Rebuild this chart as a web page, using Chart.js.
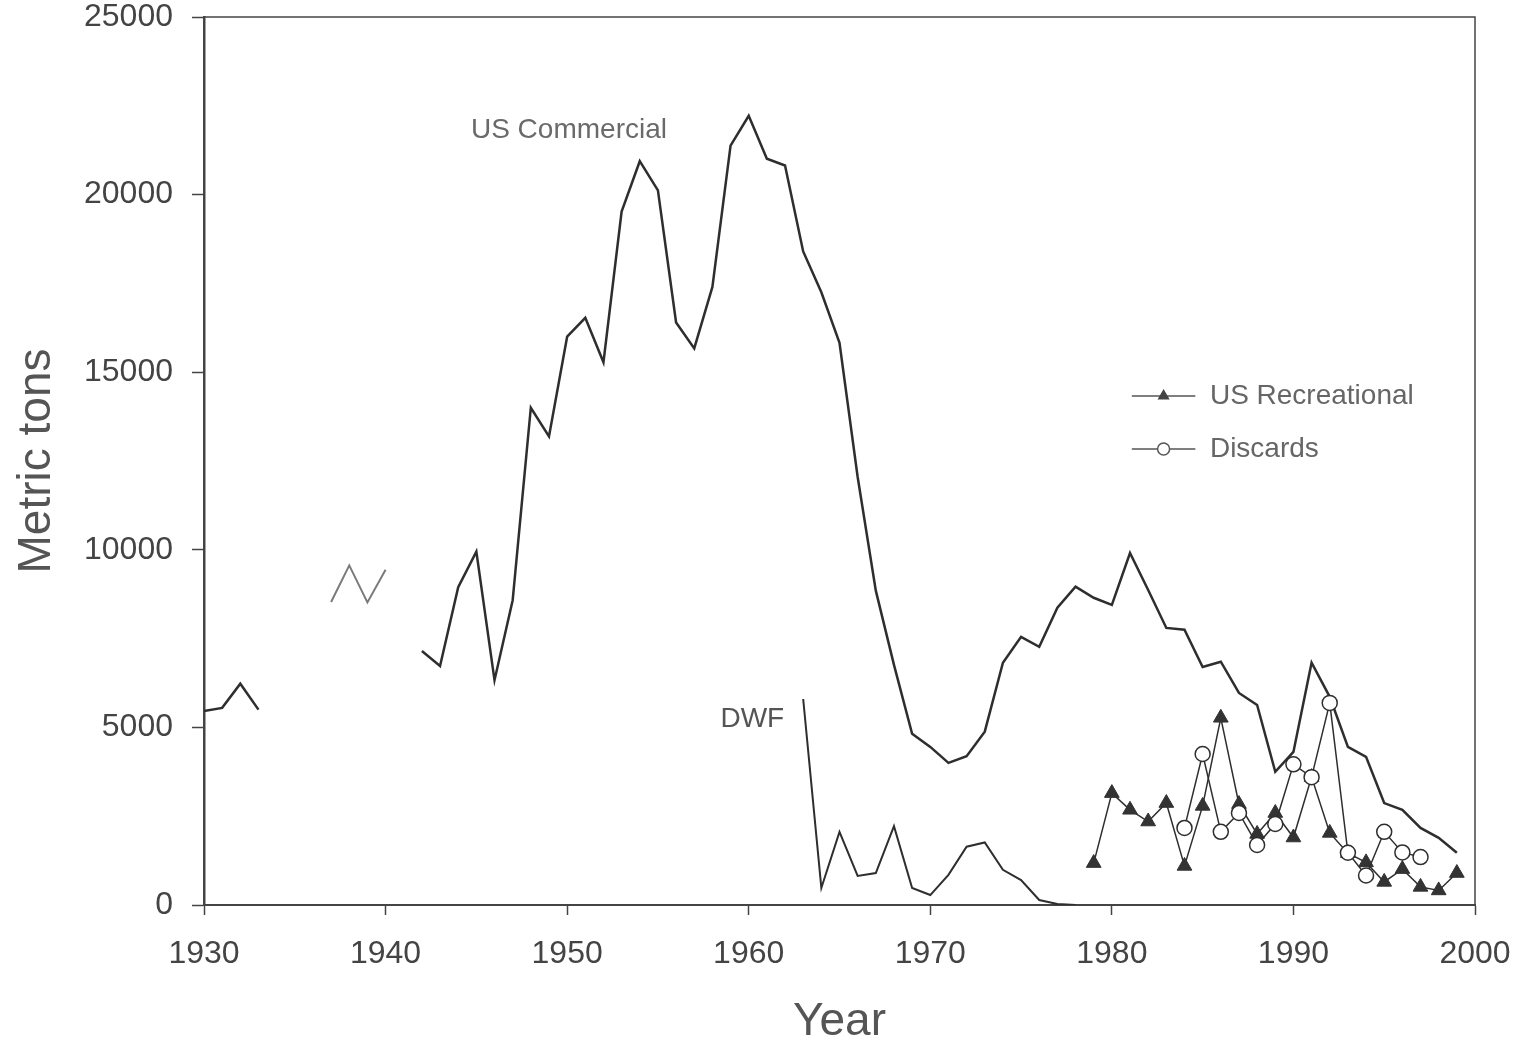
<!DOCTYPE html>
<html>
<head>
<meta charset="utf-8">
<title>Metric tons by year</title>
<script src="https://cdn.jsdelivr.net/npm/chart.js@4.4.1/dist/chart.umd.min.js"></script>
<style>
  html, body { margin: 0; padding: 0; background: #fff; }
  #wrap { width: 1528px; height: 1052px; position: relative; }
</style>
</head>
<body>
<div id="wrap"><canvas id="chart"></canvas></div>
<script>
// Data (metric tons)
const commercialYears = [
  1930, 1931, 1932, 1933, 1934, 1935, 1936, 1937, 1938, 1939, 1940, 1941,
  1942, 1943, 1944, 1945, 1946, 1947, 1948, 1949,
  1950, 1951, 1952, 1953, 1954, 1955, 1956, 1957, 1958, 1959,
  1960, 1961, 1962, 1963, 1964, 1965, 1966, 1967, 1968, 1969,
  1970, 1971, 1972, 1973, 1974, 1975, 1976, 1977, 1978, 1979,
  1980, 1981, 1982, 1983, 1984, 1985, 1986, 1987, 1988, 1989,
  1990, 1991, 1992, 1993, 1994, 1995, 1996, 1997, 1998, 1999
];
const commercialTons = [
  5460, 5550, 6230, 5500, null, null, null, null, null, null, null, null,
  7150, 6730, 8950, 9950, 6330, 8580, 14000, 13190,
  16000, 16530, 15280, 19520, 20940, 20120, 16400, 15670, 17400, 21380,
  22220, 21010, 20820, 18400, 17250, 15830, 12050, 8850, 6760, 4820,
  4450, 4000, 4190, 4880, 6820, 7550, 7270, 8370, 8960, 8650,
  8450, 9910, 8870, 7800, 7750, 6700, 6850, 5970, 5630, 3750,
  4310, 6820, 5860, 4450, 4170, 2870, 2680, 2170, 1890, 1470
];

// the lighter 1937-40 piece of the commercial series
const earlyYears = [1937, 1938, 1939, 1940];
const earlyTons = [8530, 9560, 8520, 9440];

const dwfYears = [1963, 1964, 1965, 1966, 1967, 1968, 1969, 1970, 1971, 1972, 1973, 1974, 1975, 1976, 1977, 1978];
const dwfTons = [5800, 480, 2060, 820, 900, 2220, 480, 280, 850, 1640, 1760, 990, 700, 140, 30, 0];

const recYears = [1979, 1980, 1981, 1982, 1983, 1984, 1985, 1986, 1987, 1988, 1989,
  1990, 1991, 1992, 1993, 1994, 1995, 1996, 1997, 1998, 1999];
const recTons = [1180, 3150, 2680, 2350, 2870, 1100, 2790, 5270, 2840, 2000, 2590,
  1900, 3600, 2030, 1460, 1200, 650, 1010, 510, 410, 900];

const discYears = [1984, 1985, 1986, 1987, 1988, 1989, 1990, 1991, 1992, 1993, 1994, 1995, 1996, 1997];
const discTons = [2170, 4250, 2060, 2590, 1690, 2280, 3960, 3600, 5690, 1470, 830, 2060, 1480, 1350];

const xTickValues = [1930, 1940, 1950, 1960, 1970, 1980, 1990, 2000];
const yTickValues = [0, 5000, 10000, 15000, 20000, 25000];

// text placed in data units (year, tons)
const seriesLabels = [
  { text: "US Commercial", x: 1950.1, y: 21800, color: "#6a6a6a" },
  { text: "DWF", x: 1960.2, y: 5220, color: "#555" },
];
const legendItems = [
  { text: "US Recreational", y: 14330, marker: "triangle" },
  { text: "Discards", y: 12840, marker: "circle" },
];
const legendLine = { from: 1981.1, to: 1984.6, text: 1985.4 };

const FONT = "'Liberation Sans', Arial, Helvetica, sans-serif";
const ink = "#2e2e2e";
Chart.defaults.font.family = FONT;

function pts(xs, ys) {
  return xs.map((x, i) => ({ x, y: ys[i] }));
}

// top and right border of the plot box
const framePlugin = {
  id: "frame",
  afterDraw(chart) {
    const { ctx, chartArea: a } = chart;
    ctx.save();
    ctx.strokeStyle = "#444";
    ctx.lineWidth = 1.5;
    ctx.beginPath();
    ctx.moveTo(a.left, a.top);
    ctx.lineTo(a.right, a.top);
    ctx.lineTo(a.right, a.bottom);
    ctx.stroke();
    ctx.restore();
  },
};

const textPlugin = {
  id: "texts",
  afterDraw(chart) {
    const { ctx, scales: { x, y } } = chart;
    ctx.save();
    ctx.font = `28px ${FONT}`;
    ctx.textBaseline = "middle";
    ctx.textAlign = "center";
    seriesLabels.forEach(l => {
      ctx.fillStyle = l.color;
      ctx.fillText(l.text, x.getPixelForValue(l.x), y.getPixelForValue(l.y));
    });

    // legend
    const x0 = x.getPixelForValue(legendLine.from);
    const x1 = x.getPixelForValue(legendLine.to);
    const xt = x.getPixelForValue(legendLine.text);
    legendItems.forEach(item => {
      const py = y.getPixelForValue(item.y);
      ctx.strokeStyle = "#555";
      ctx.lineWidth = 1.5;
      ctx.beginPath();
      ctx.moveTo(x0, py);
      ctx.lineTo(x1, py);
      ctx.stroke();
      const cx = (x0 + x1) / 2;
      ctx.beginPath();
      if (item.marker === "triangle") {
        const r = 7;
        ctx.moveTo(cx, py - r);
        ctx.lineTo(cx + r * 0.87, py + r * 0.5);
        ctx.lineTo(cx - r * 0.87, py + r * 0.5);
        ctx.closePath();
        ctx.fillStyle = "#444";
        ctx.fill();
      } else {
        ctx.arc(cx, py, 6, 0, Math.PI * 2);
        ctx.fillStyle = "#fff";
        ctx.fill();
        ctx.stroke();
      }
      ctx.fillStyle = "#666";
      ctx.textAlign = "left";
      ctx.fillText(item.text, xt, py);
    });
    ctx.restore();
  },
};

const ctx = document.getElementById("chart").getContext("2d");
new Chart(ctx, {
  type: "line",
  data: {
    datasets: [
      {
        label: "Discards",
        data: pts(discYears, discTons),
        borderColor: ink,
        borderWidth: 1.5,
        pointStyle: "circle",
        pointRadius: 7.5,
        pointBackgroundColor: "#fff",
        pointBorderColor: ink,
        pointBorderWidth: 1.5,
        order: 0,
      },
      {
        label: "US Recreational",
        data: pts(recYears, recTons),
        borderColor: ink,
        borderWidth: 1.5,
        pointStyle: "triangle",
        pointRadius: 8.5,
        pointBackgroundColor: "#333",
        pointBorderColor: "#333",
        pointBorderWidth: 1,
        order: 1,
      },
      {
        label: "US Commercial",
        data: pts(commercialYears, commercialTons),
        borderColor: ink,
        borderWidth: 2.5,
        pointRadius: 0,
        spanGaps: false,
        order: 2,
      },
      {
        label: "US Commercial 1937-40",
        data: pts(earlyYears, earlyTons),
        borderColor: "#7a7a7a",
        borderWidth: 2,
        pointRadius: 0,
        order: 3,
      },
      {
        label: "DWF",
        data: pts(dwfYears, dwfTons),
        borderColor: ink,
        borderWidth: 2,
        pointRadius: 0,
        order: 2,
      },
    ],
  },
  options: {
    responsive: true,
    maintainAspectRatio: false,
    animation: false,
    layout: { padding: 0 },
    plugins: { legend: { display: false }, tooltip: { enabled: false } },
    elements: { line: { tension: 0 } },
    scales: {
      x: {
        type: "linear",
        min: 1930,
        max: 2000,
        afterFit: s => {
          s.height = 147;
          s.paddingLeft = 0;
          s.paddingRight = 53;
        },
        afterBuildTicks: s => { s.ticks = xTickValues.map(v => ({ value: v })); },
        grid: { drawOnChartArea: false, tickLength: 10, tickColor: "#444", tickWidth: 1.5 },
        border: { color: "#444", width: 2 },
        ticks: {
          color: "#444",
          font: { size: 32 },
          padding: 20,
          maxRotation: 0,
          autoSkip: false,
          callback: v => String(v),
        },
        title: {
          display: true,
          text: "Year",
          color: "#555",
          font: { size: 46 },
          padding: { top: 0, bottom: 2 },
        },
      },
      y: {
        min: 0,
        max: 25000,
        afterFit: s => {
          s.width = 204;
          s.paddingTop = 17;
          s.paddingBottom = 0;
        },
        afterBuildTicks: s => { s.ticks = yTickValues.map(v => ({ value: v })); },
        grid: { drawOnChartArea: false, tickLength: 12, tickColor: "#444", tickWidth: 1.5 },
        border: { color: "#444", width: 2.5 },
        ticks: {
          color: "#444",
          font: { size: 32, lineHeight: 1 },
          padding: 19,
          callback: v => String(v),
        },
        title: {
          display: true,
          text: "Metric tons",
          color: "#555",
          font: { size: 46 },
          padding: { top: 10, bottom: 0 },
        },
      },
    },
  },
  plugins: [framePlugin, textPlugin],
});
</script>
</body>
</html>
